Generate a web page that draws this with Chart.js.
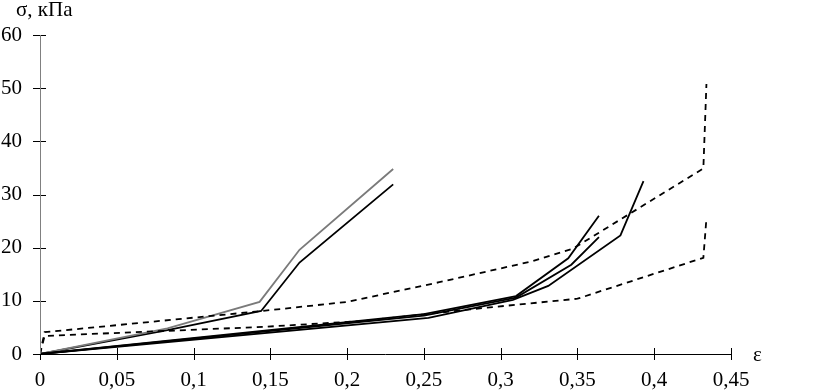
<!DOCTYPE html>
<html>
<head>
<meta charset="utf-8">
<script src="https://cdn.jsdelivr.net/npm/chart.js@4"></script>
<style>
  html, body { margin: 0; padding: 0; background: #fff; }
  #wrap { width: 821px; height: 391px; }
</style>
</head>
<body>
<div id="wrap"><canvas id="c" width="821" height="391"></canvas></div>
<script>
// deformation curves: [eps, sigma]
const grayUpper = [[0, 0], [0.083, 4.8], [0.143, 9.8], [0.169, 19.6], [0.23, 34.8]];
const blackUpper = [[0, 0], [0.083, 4.5], [0.144, 8.1], [0.169, 17.2], [0.23, 31.9]];
const lineA = [[0, 0], [0.25, 7.5], [0.31, 10.9], [0.344, 18.0], [0.364, 26.0]];
const lineB = [[0, 0], [0.25, 7.2], [0.31, 10.6], [0.346, 16.8], [0.364, 22.0]];
const lineC = [[0, 0], [0.253, 6.8], [0.308, 10.2], [0.331, 12.8], [0.378, 22.3], [0.393, 32.5]];
const dashUpper = [[0, 0], [0.003, 4.1], [0.145, 8.1], [0.2, 9.8], [0.26, 13.5], [0.32, 17.4], [0.347, 19.8], [0.432, 34.9], [0.434, 50.8]];
const dashLower = [[0, 0], [0.003, 3.4], [0.145, 5.1], [0.21, 6.2], [0.28, 8.4], [0.35, 10.4], [0.432, 18.1], [0.434, 25.5]];

const xTicks = [0, 0.05, 0.1, 0.15, 0.2, 0.25, 0.3, 0.35, 0.4, 0.45];
const yTicks = [0, 10, 20, 30, 40, 50, 60];

const FONT = '"Liberation Serif", "Times New Roman", serif';
const pts = (a) => a.map(([x, y]) => ({ x, y }));
const ds = (data, color, dash) => ({
  data: pts(data), borderColor: color, borderWidth: 1.8, borderDash: dash || [],
  pointRadius: 0, tension: 0, fill: false,
});

// крестообразные засечки и подписи осей
const axisDeco = {
  id: 'axisDeco',
  afterDraw(chart) {
    const { ctx, scales: { x, y } } = chart;
    const x0 = x.getPixelForValue(0), y0 = y.getPixelForValue(0);
    ctx.save();
    ctx.lineWidth = 1;
    ctx.strokeStyle = '#000';
    ctx.beginPath();
    ctx.moveTo(x0, Math.round(y0) + 0.5); ctx.lineTo(x.getPixelForValue(0.45), Math.round(y0) + 0.5);
    xTicks.forEach((v) => {
      const px = Math.round(x.getPixelForValue(v)) + 0.5;
      ctx.moveTo(px, y0 - 6); ctx.lineTo(px, y0 + 6);
    });
    yTicks.forEach((v) => {
      const py = Math.round(y.getPixelForValue(v)) + 0.5;
      ctx.moveTo(x0 - 7, py); ctx.lineTo(x0 + 6, py);
    });
    ctx.stroke();
    ctx.strokeStyle = '#808080';
    ctx.beginPath();
    ctx.moveTo(Math.round(x0) + 0.5, y0); ctx.lineTo(Math.round(x0) + 0.5, y.getPixelForValue(60));
    ctx.stroke();
    ctx.fillStyle = '#000';
    ctx.font = '21px ' + FONT;
    ctx.textBaseline = 'alphabetic';
    ctx.textAlign = 'left';
    ctx.fillText('σ, кПа', 16, 16);
    ctx.fillText('ε', x.getPixelForValue(0.45) + 22, y0 + 7);
    ctx.restore();
  },
};

new Chart(document.getElementById('c'), {
  type: 'line',
  data: {
    datasets: [
      ds(dashUpper, '#000', [6, 5]),
      ds(dashLower, '#000', [6, 5]),
      ds(lineA, '#000'),
      ds(lineB, '#000'),
      ds(lineC, '#000'),
      ds(grayUpper, '#7a7a7a'),
      ds(blackUpper, '#000'),
    ],
  },
  options: {
    responsive: false, animation: false,
    layout: { padding: { top: 35, right: 90, left: 0, bottom: 0 } },
    plugins: { legend: { display: false }, tooltip: { enabled: false } },
    scales: {
      x: {
        type: 'linear', min: 0, max: 0.45,
        afterBuildTicks: (s) => { s.ticks = xTicks.map((v) => ({ value: v })); },
        afterFit: (s) => { s.height = 37; },
        grid: { display: false, drawTicks: false },
        border: { display: false },
        ticks: {
          padding: 14, color: '#000', font: { family: FONT, size: 21 },
          maxRotation: 0, autoSkip: false,
          callback: (v) => String(+v.toFixed(2)).replace('.', ','),
        },
      },
      y: {
        min: 0, max: 60,
        afterBuildTicks: (s) => { s.ticks = yTicks.map((v) => ({ value: v })); },
        afterFit: (s) => { s.width = 40; },
        grid: { display: false, drawTicks: false },
        border: { display: false },
        ticks: { padding: 18, color: '#000', font: { family: FONT, size: 21 } },
      },
    },
  },
  plugins: [axisDeco],
});
</script>
</body>
</html>
